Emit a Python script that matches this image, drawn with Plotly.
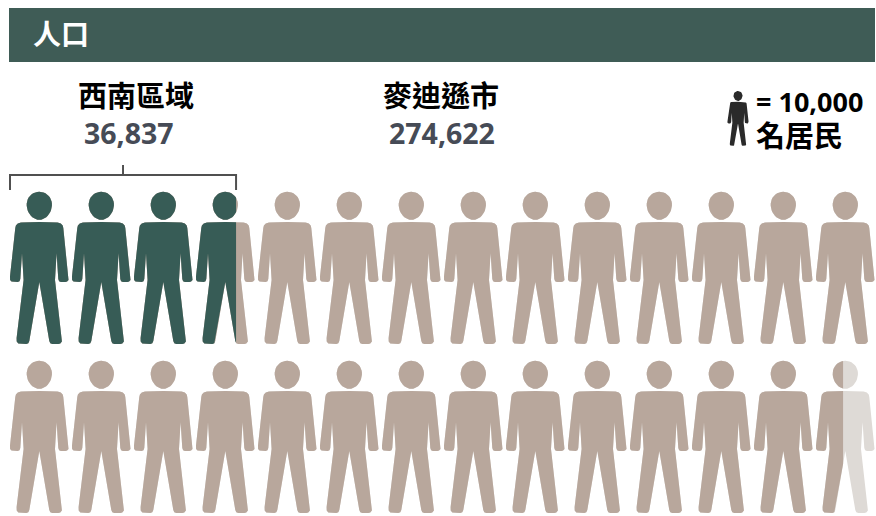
import math
import plotly.graph_objects as go

title_text = "人口"
region_name = "西南區域"
city_name = "麥迪遜市"
region_pop = 36837
city_pop = 274622
per_icon = 10000
legend_top = "= 10,000"
legend_bottom = "名居民"

COLS, ROWS = 14, 2
DARK, TAN, PALE = "#375c56", "#b8a79c", "#dedad6"
BANNER = "#3f5c56"
CJK = "Noto Sans CJK TC"
LATIN = "Open Sans"

# Half outline of the figure, offsets in px from centre / head top
HALF = [(0, 30), (18.3, 30.5), (21.5, 31.6), (23.4, 33.5), (24, 36), (29.3, 84.5), (29.2, 88), (27.8, 89.6),
        (26, 90), (21.6, 90), (19.8, 89.2), (19, 87), (17.3, 61.3), (15.7, 88), (22.7, 146), (22.6, 149.5), (21, 151.5),
        (19, 152), (13, 152), (11, 151.2), (10, 149), (0, 90)]
BODY = HALF + [(-x, y) for x, y in reversed(HALF[1:-1])]
HEAD = [(12.6 * math.cos(t) * (1 - .08 * math.sin(t)), 13.8 + 14 * math.sin(t))
        for t in (2 * math.pi * k / 40 for k in range(40))]
ICON_HALF_W = 29.3


def clip_right(poly, xmax):
    out = []
    for (x0, y0), (x1, y1) in zip(poly, poly[1:] + poly[:1]):
        if x0 <= xmax:
            out.append((x0, y0))
        if (x0 <= xmax) != (x1 <= xmax):
            out.append((xmax, y0 + (y1 - y0) * (xmax - x0) / (x1 - x0)))
    return out


def icon_paths(cx, top, frac=1.0, scale=1.0):
    xs, ys = [], []
    limit = -ICON_HALF_W + 2 * ICON_HALF_W * frac
    for part in (HEAD, BODY):
        p = clip_right(part, limit) if frac < 1 else part
        if p:
            xs += [cx + scale * x for x, _ in p] + [cx + scale * p[0][0], None]
            ys += [top + scale * y for _, y in p] + [top + scale * p[0][1], None]
    return xs, ys


X0, DX, Y0, DY = 39.3, 62, 192, 169


def layer(value, color):
    xs, ys = [], []
    for i in range(COLS * ROWS):
        f = value / per_icon - i
        if f <= 0:
            continue
        a, b = icon_paths(X0 + DX * (i % COLS), Y0 + DY * (i // COLS), min(f, 1))
        xs += a
        ys += b
    return go.Scatter(x=xs, y=ys, mode="lines", fill="toself", fillcolor=color,
                      line=dict(width=0, color=color), hoverinfo="skip", showlegend=False)


fig = go.Figure()
# banner
fig.add_shape(type="rect", x0=9, x1=875, y0=8, y1=62, fillcolor=BANNER, line_width=0, layer="below")
for value, color in ((COLS * ROWS * per_icon, PALE), (city_pop, TAN), (region_pop, DARK)):
    fig.add_trace(layer(value, color))

# bracket over the region icons
bx0 = X0 - ICON_HALF_W
bx1 = X0 + DX * (region_pop // per_icon) - ICON_HALF_W + 2 * ICON_HALF_W * (region_pop / per_icon % 1)
fig.add_trace(go.Scatter(x=[bx0, bx0, bx1, bx1, None, (bx0 + bx1) / 2, (bx0 + bx1) / 2],
                         y=[190, 175, 175, 190, None, 175, 165], mode="lines",
                         line=dict(color="#505050", width=2), hoverinfo="skip", showlegend=False))

# legend icon
lx, ly = icon_paths(738, 91, 1, .36)
fig.add_trace(go.Scatter(x=lx, y=ly, mode="lines", fill="toself", fillcolor="#2a2a2a",
                         line=dict(width=0, color="#2a2a2a"), hoverinfo="skip", showlegend=False))


def label(x, y, text, size, color="#000000", family=CJK, weight=700, anchor="center", align="center"):
    fig.add_annotation(x=x, y=y, xref="x", yref="y", text=text, showarrow=False, xanchor=anchor,
                       yanchor="middle", align=align,
                       font=dict(family=family, size=size, color=color, weight=weight))


label(31, 33, title_text, 28, "#ffffff", anchor="left")
label(136, 94, region_name, 29)
label(129, 133, f"{region_pop:,}", 28.5, "#464b56", LATIN, 700)
label(441, 94, city_name, 29)
label(442, 133, f"{city_pop:,}", 28.5, "#464b56", LATIN, 700)
label(754, 119, f"{legend_top}<br><span style='font-size:29px;font-family:{CJK}'>{legend_bottom}</span>",
      27, family=f"{LATIN}, {CJK}", anchor="left", align="left")

fig.update_layout(width=876, height=516, margin=dict(l=0, r=0, t=0, b=0),
                  paper_bgcolor="#ffffff", plot_bgcolor="#ffffff", showlegend=False,
                  xaxis=dict(range=[0, 876], visible=False, fixedrange=True),
                  yaxis=dict(range=[516, 0], visible=False, fixedrange=True))
fig.write_html("out.html", post_script="document.body.style.margin='0';document.body.style.overflow='hidden';",
               config={"displayModeBar": False})
